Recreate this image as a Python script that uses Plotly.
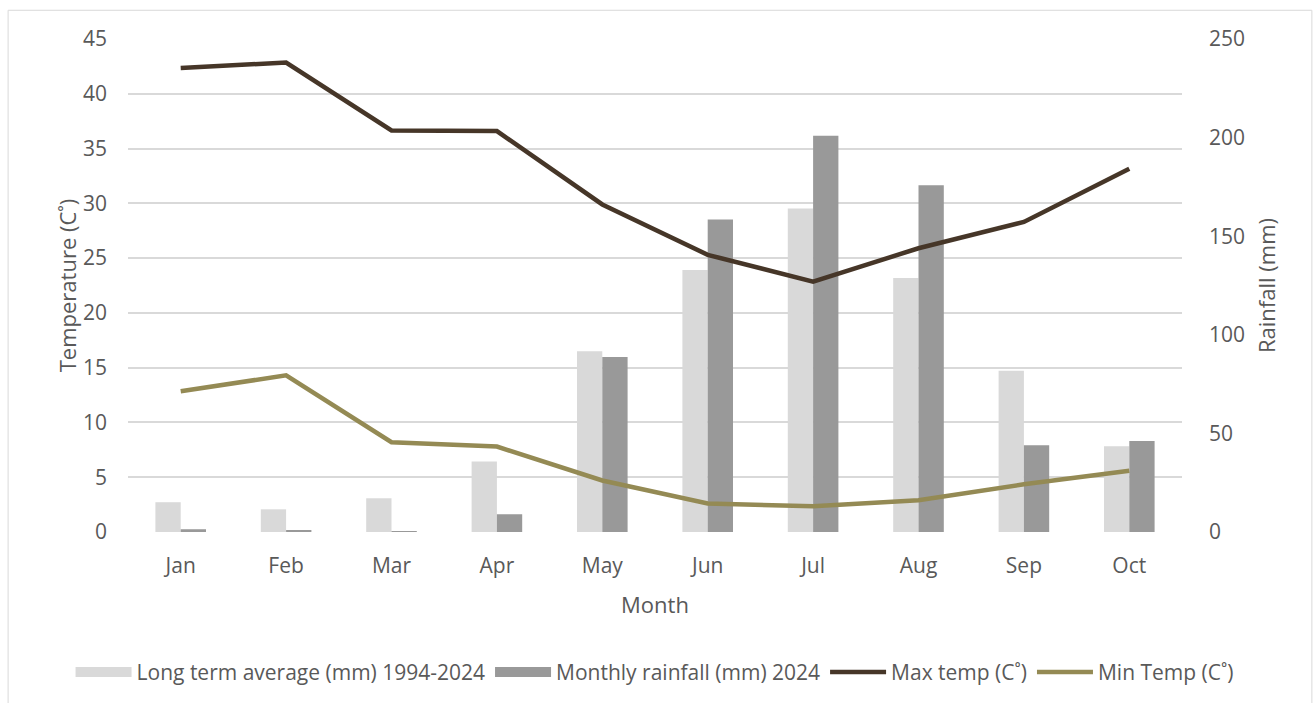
import plotly.graph_objects as go

months = ["Jan", "Feb", "Mar", "Apr", "May", "Jun", "Jul", "Aug", "Sep", "Oct"]
long_term_avg = [15.1, 11.5, 17.1, 35.7, 91.6, 132.9, 164.0, 128.8, 81.8, 43.5]
rain_2024 = [1.4, 0.8, 0.3, 9.0, 88.7, 158.5, 201.0, 175.9, 44.0, 46.2]
max_temp = [42.35, 42.85, 36.65, 36.6, 29.9, 25.3, 22.85, 25.9, 28.3, 33.15]
min_temp = [12.85, 14.3, 8.2, 7.8, 4.7, 2.6, 2.35, 2.9, 4.35, 5.6]
temp_ticks = [0, 5, 10, 15, 20, 25, 30, 35, 40, 45]
rain_ticks = [0, 50, 100, 150, 200, 250]

names = ["Long term average (mm) 1994-2024", "Monthly rainfall (mm) 2024",
         "Max temp (C˚)", "Min Temp (C˚)"]
C_LIGHT = "#d9d9d9"
C_DARK = "#999999"
C_MAX = "#463628"
C_MIN = "#948a54"
TXT = "#595959"
FONT = "Open Sans"
TICK_SIZE = 21
TITLE_SIZE = 22
LEG_SIZE = 21

fig = go.Figure()
# bars on primary y (rainfall, drawn on the right)
fig.add_trace(go.Bar(x=months, y=long_term_avg, name=names[0], marker_color=C_LIGHT,
                     marker_line_width=0, yaxis="y", showlegend=False))
fig.add_trace(go.Bar(x=months, y=rain_2024, name=names[1], marker_color=C_DARK,
                     marker_line_width=0, yaxis="y", showlegend=False))
# lines on overlaying y2 (temperature, drawn on the left)
fig.add_trace(go.Scatter(x=months, y=max_temp, name=names[2], mode="lines",
                         line=dict(color=C_MAX, width=4.5), yaxis="y2", showlegend=False))
fig.add_trace(go.Scatter(x=months, y=min_temp, name=names[3], mode="lines",
                         line=dict(color=C_MIN, width=4.5), yaxis="y2", showlegend=False))

# legend entries
for nm, col, w in [(names[0], C_LIGHT, 15), (names[1], C_DARK, 15),
                   (names[2], C_MAX, 4.5), (names[3], C_MIN, 4.5)]:
    fig.add_trace(go.Scatter(x=[None], y=[None], name=nm, mode="lines",
                             line=dict(color=col, width=w), yaxis="y2", showlegend=True))

W, H = 1315, 703
L, R, T, B = 127.5, 132.5, 39.2, 171.3
pw, ph = W - L - R, H - T - B

def px_x(p):
    return (p - L) / pw

def px_y(p):
    return (H - B - p) / ph

fig.update_layout(
    width=W, height=H,
    margin=dict(l=L, r=R, t=T, b=B, autoexpand=False),
    paper_bgcolor="white", plot_bgcolor="white",
    font=dict(family=FONT, size=TICK_SIZE, color=TXT),
    barmode="group", bargap=0.52, bargroupgap=0,
    xaxis=dict(showgrid=False, showline=False, ticks="", ticklabelstandoff=19,
               title=dict(text="Month", standoff=19, font=dict(size=TITLE_SIZE, color=TXT)),
               tickfont=dict(size=TICK_SIZE, color=TXT)),
    yaxis=dict(range=[0, 250], tickvals=rain_ticks, side="right", showgrid=False,
               zeroline=False, showline=False, ticks="", ticklabelstandoff=26,
               title=dict(text="Rainfall (mm)", standoff=15, font=dict(size=TITLE_SIZE, color=TXT)),
               tickfont=dict(size=TICK_SIZE, color=TXT)),
    yaxis2=dict(range=[0, 45], tickvals=temp_ticks, side="left", overlaying="y",
                showgrid=True, gridcolor="#d9d9d9", gridwidth=1.5,
                zeroline=False, showline=False, ticks="", ticklabelstandoff=20,
                title=dict(text="Temperature (C˚)", standoff=0, font=dict(size=TITLE_SIZE, color=TXT)),
                tickfont=dict(size=TICK_SIZE, color=TXT)),
    legend=dict(orientation="h", x=px_x(70), xanchor="left", y=px_y(672), yanchor="middle",
                font=dict(size=LEG_SIZE, color=TXT), itemwidth=56, traceorder="normal",
                bgcolor="rgba(0,0,0,0)"),
    shapes=[dict(type="rect", xref="paper", yref="paper",
                 x0=px_x(7.5), x1=px_x(1312.5), y0=px_y(720), y1=px_y(10.5),
                 line=dict(color="#d9d9d9", width=1), fillcolor="rgba(0,0,0,0)", layer="below")],
)

fig.write_html("out.html", post_script="document.body.style.margin='0';",
               config={"displayModeBar": False})
